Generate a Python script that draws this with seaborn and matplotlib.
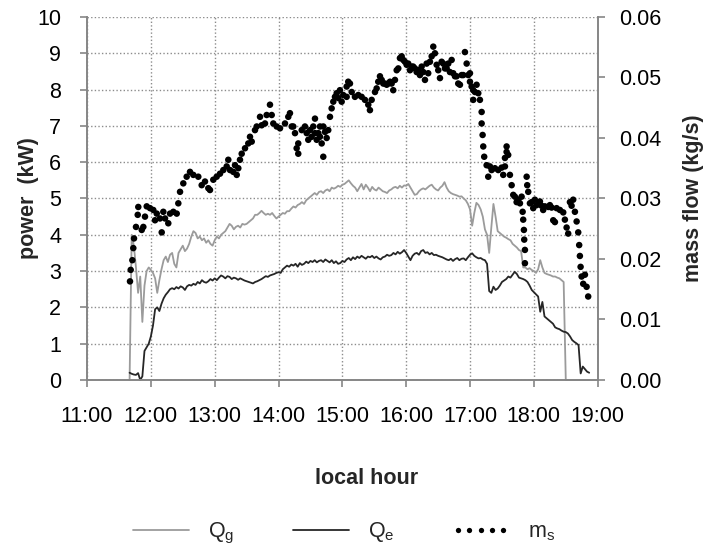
import numpy as np
import pandas as pd
import matplotlib
matplotlib.use("Agg")
import matplotlib.pyplot as plt
from matplotlib.lines import Line2D
from matplotlib.legend_handler import HandlerLine2D
from matplotlib.ticker import FormatStrFormatter
import seaborn as sns

# ---------------------------------------------------------------------------
# Power curves, logged every 2 minutes from 11:40 to 18:52 (kW)
# ---------------------------------------------------------------------------
first_minute = 11 * 60 + 40
last_minute = 18 * 60 + 52
sample_minutes = np.arange(first_minute, last_minute + 1, 2)

q_g = [
    0.0, 4.0, 3.7, 3.1, 2.4, 2.85, 1.6, 2.6, 3.0, 3.1, 3.03, 2.95, 2.8, 2.4, 2.75,
    3.05, 3.3, 3.4, 3.25, 3.45, 3.5, 3.2, 3.1, 3.5, 3.6, 3.7, 3.55, 3.62, 3.75, 3.95,
    4.1, 4.05, 3.9, 3.95, 3.85, 3.9, 3.78, 3.85, 3.75, 3.7, 3.85, 3.95, 3.9, 4.0, 4.05,
    4.1, 4.2, 4.3, 4.25, 4.15, 4.22, 4.25, 4.2, 4.3, 4.28, 4.3, 4.35, 4.4, 4.45, 4.55,
    4.55, 4.6, 4.66, 4.6, 4.55, 4.58, 4.55, 4.6, 4.52, 4.45, 4.5, 4.55, 4.6, 4.58, 4.65,
    4.65, 4.72, 4.78, 4.75, 4.82, 4.85, 4.9, 4.85, 4.95, 5.0, 5.05, 5.1, 5.15, 5.1, 5.18,
    5.2, 5.15, 5.22, 5.25, 5.2, 5.3, 5.27, 5.3, 5.35, 5.32, 5.38, 5.4, 5.45, 5.5, 5.42,
    5.35, 5.3, 5.2, 5.3, 5.4, 5.25, 5.38, 5.3, 5.2, 5.32, 5.25, 5.22, 5.3, 5.25, 5.2,
    5.18, 5.15, 5.22, 5.25, 5.3, 5.32, 5.28, 5.35, 5.3, 5.36, 5.35, 5.4, 5.3, 5.2, 5.1,
    5.12, 5.2, 5.25, 5.28, 5.25, 5.3, 5.35, 5.38, 5.3, 5.25, 5.22, 5.3, 5.35, 5.45, 5.3,
    5.2, 5.15, 5.12, 5.1, 5.08, 5.05, 5.06, 5.0, 4.95, 4.85, 4.7, 4.25, 4.6, 4.88, 4.82,
    4.7, 4.5, 4.15, 4.0, 3.5, 4.2, 4.85, 4.5, 4.1, 4.05, 4.0, 3.95, 3.92, 3.88, 3.85,
    3.75, 3.7, 3.65, 3.58, 3.55, 3.1, 3.1, 3.05, 3.08, 3.03, 3.0, 2.95, 3.05, 3.3, 3.1,
    2.95, 2.92, 2.9, 2.88, 2.85, 2.85, 2.82, 2.8, 2.75, 2.7, 0.0, 0.0, 0.0, 0.0, 0.0,
    0.0, 0.0, 0.0, 0.0, 0.0, 0.0, 0.0,
]

q_e = [
    0.2, 0.17, 0.15, 0.14, 0.19, 0.0, 0.1, 0.8, 0.9, 1.0, 1.2, 1.5, 1.95, 2.0, 1.9,
    2.1, 2.25, 2.35, 2.42, 2.5, 2.53, 2.5, 2.56, 2.52, 2.58, 2.55, 2.48, 2.58, 2.62, 2.6,
    2.65, 2.62, 2.7, 2.66, 2.75, 2.7, 2.68, 2.72, 2.78, 2.74, 2.8, 2.75, 2.82, 2.88, 2.85,
    2.8, 2.86, 2.84, 2.78, 2.82, 2.8, 2.76, 2.8, 2.77, 2.74, 2.72, 2.7, 2.68, 2.66, 2.7,
    2.72, 2.75, 2.78, 2.82, 2.86, 2.84, 2.88, 2.9, 2.92, 2.95, 2.97, 2.95, 3.05, 3.1, 3.15,
    3.12, 3.18, 3.15, 3.2, 3.12, 3.22, 3.17, 3.2, 3.26, 3.22, 3.28, 3.25, 3.3, 3.24, 3.28,
    3.3, 3.25, 3.32, 3.28, 3.24, 3.3, 3.22, 3.27, 3.2, 3.22, 3.28, 3.25, 3.32, 3.36, 3.3,
    3.38, 3.33, 3.4, 3.36, 3.42, 3.38, 3.34, 3.4, 3.38, 3.42, 3.36, 3.4, 3.35, 3.32, 3.38,
    3.4, 3.45, 3.42, 3.44, 3.5, 3.46, 3.53, 3.48, 3.52, 3.58, 3.5, 3.4, 3.3, 3.42, 3.48,
    3.5, 3.45, 3.55, 3.58, 3.5, 3.52, 3.46, 3.5, 3.44, 3.45, 3.42, 3.4, 3.38, 3.35, 3.32,
    3.3, 3.34, 3.28, 3.33, 3.36, 3.3, 3.34, 3.35, 3.3, 3.38, 3.45, 3.49, 3.42, 3.38, 3.35,
    3.36, 3.32, 3.3, 3.2, 2.45, 2.4, 2.57, 2.48, 2.52, 2.6, 2.7, 2.74, 2.78, 2.85, 2.82,
    2.9, 2.98, 2.92, 2.82, 2.8, 2.78, 2.75, 2.7, 2.6, 2.48, 2.42, 2.36, 2.3, 1.88, 2.15,
    1.75, 1.7, 1.65, 1.6, 1.55, 1.45, 1.42, 1.4, 1.36, 1.33, 1.32, 1.28, 1.2, 1.1, 1.05,
    1.01, 0.96, 0.18, 0.37, 0.3, 0.23, 0.2,
]

# ---------------------------------------------------------------------------
# Steam mass flow readings (decimal hour, kg/s)
# ---------------------------------------------------------------------------
ms_hour = [
    11.673, 11.684, 11.710, 11.725, 11.736, 11.767, 11.794, 11.803, 11.857, 11.882,
    11.908, 11.935, 11.987, 12.038, 12.065, 12.092, 12.143, 12.170, 12.195, 12.222,
    12.273, 12.300, 12.352, 12.405, 12.430, 12.457, 12.508, 12.561, 12.613, 12.665,
    12.743, 12.796, 12.848, 12.900, 12.926, 12.978, 13.031, 13.083, 13.135, 13.188,
    13.213, 13.240, 13.291, 13.318, 13.345, 13.370, 13.396, 13.423, 13.475, 13.526,
    13.553, 13.580, 13.631, 13.658, 13.710, 13.736, 13.788, 13.814, 13.866, 13.893,
    13.918, 13.971, 14.023, 14.101, 14.153, 14.179, 14.206, 14.231, 14.258, 14.284,
    14.309, 14.309, 14.363, 14.414, 14.441, 14.466, 14.493, 14.519, 14.544, 14.571,
    14.571, 14.598, 14.623, 14.649, 14.649, 14.676, 14.701, 14.701, 14.728, 14.754,
    14.779, 14.806, 14.832, 14.858, 14.884, 14.911, 14.936, 14.962, 14.989, 15.014,
    15.067, 15.067, 15.092, 15.119, 15.146, 15.197, 15.249, 15.302, 15.354, 15.406,
    15.432, 15.459, 15.511, 15.537, 15.562, 15.589, 15.616, 15.641, 15.667, 15.694,
    15.719, 15.746, 15.772, 15.797, 15.824, 15.851, 15.876, 15.902, 15.929, 15.954,
    15.980, 16.007, 16.032, 16.059, 16.085, 16.110, 16.137, 16.164, 16.189, 16.215,
    16.242, 16.267, 16.294, 16.320, 16.345, 16.372, 16.399, 16.424, 16.450, 16.477,
    16.502, 16.529, 16.555, 16.580, 16.607, 16.634, 16.659, 16.685, 16.712, 16.737,
    16.764, 16.790, 16.815, 16.842, 16.869, 16.894, 16.920, 16.947, 16.972, 16.999,
    16.999, 17.025, 17.050, 17.050, 17.077, 17.103, 17.129, 17.155, 17.182, 17.182,
    17.197, 17.207, 17.222, 17.260, 17.285, 17.312, 17.338, 17.390, 17.442, 17.495,
    17.520, 17.547, 17.547, 17.573, 17.573, 17.598, 17.625, 17.652, 17.677, 17.703,
    17.730, 17.755, 17.782, 17.808, 17.824, 17.833, 17.844, 17.849, 17.860, 17.860,
    17.887, 17.896, 17.912, 17.938, 17.965, 17.990, 18.016, 18.043, 18.095, 18.121,
    18.146, 18.173, 18.225, 18.251, 18.278, 18.303, 18.330, 18.356, 18.408, 18.460,
    18.486, 18.513, 18.538, 18.565, 18.591, 18.616, 18.643, 18.670, 18.695, 18.710,
    18.721, 18.732, 18.748, 18.773, 18.800, 18.826, 18.851,
]

ms_flow = [
    0.0163, 0.0182, 0.0198, 0.0218, 0.0234, 0.0253, 0.0273, 0.0286, 0.0248, 0.0253,
    0.0270, 0.0287, 0.0284, 0.0281, 0.0264, 0.0275, 0.0267, 0.0244, 0.0278, 0.0267,
    0.0259, 0.0275, 0.0278, 0.0275, 0.0292, 0.0311, 0.0325, 0.0336, 0.0344, 0.0339,
    0.0336, 0.0322, 0.0328, 0.0317, 0.0314, 0.0331, 0.0336, 0.0341, 0.0347, 0.0353,
    0.0364, 0.0347, 0.0344, 0.0355, 0.0339, 0.0350, 0.0364, 0.0374, 0.0383, 0.0391,
    0.0402, 0.0394, 0.0413, 0.0419, 0.0435, 0.0421, 0.0424, 0.0438, 0.0455, 0.0438,
    0.0424, 0.0419, 0.0416, 0.0424, 0.0435, 0.0441, 0.0419, 0.0419, 0.0408, 0.0383,
    0.0391, 0.0374, 0.0413, 0.0419, 0.0408, 0.0397, 0.0413, 0.0402, 0.0419, 0.0432,
    0.0408, 0.0397, 0.0408, 0.0419, 0.0402, 0.0391, 0.0369, 0.0419, 0.0410, 0.0400,
    0.0413, 0.0435, 0.0449, 0.0460, 0.0468, 0.0474, 0.0466, 0.0479, 0.0460, 0.0471,
    0.0485, 0.0468, 0.0493, 0.0490, 0.0476, 0.0468, 0.0471, 0.0468, 0.0463, 0.0455,
    0.0446, 0.0463, 0.0476, 0.0482, 0.0493, 0.0502, 0.0496, 0.0490, 0.0490, 0.0488,
    0.0490, 0.0493, 0.0490, 0.0479, 0.0496, 0.0512, 0.0515, 0.0532, 0.0535, 0.0529,
    0.0526, 0.0521, 0.0523, 0.0512, 0.0518, 0.0518, 0.0515, 0.0509, 0.0512, 0.0504,
    0.0518, 0.0509, 0.0496, 0.0523, 0.0507, 0.0526, 0.0535, 0.0551, 0.0540, 0.0521,
    0.0512, 0.0499, 0.0526, 0.0523, 0.0515, 0.0515, 0.0523, 0.0509, 0.0529, 0.0507,
    0.0502, 0.0502, 0.0490, 0.0488, 0.0504, 0.0504, 0.0542, 0.0523, 0.0504, 0.0493,
    0.0507, 0.0485, 0.0479, 0.0463, 0.0476, 0.0488, 0.0474, 0.0463, 0.0443, 0.0424,
    0.0405, 0.0386, 0.0369, 0.0355, 0.0336, 0.0353, 0.0347, 0.0350, 0.0347, 0.0351,
    0.0339, 0.0367, 0.0353, 0.0377, 0.0386, 0.0372, 0.0339, 0.0322, 0.0306, 0.0303,
    0.0294, 0.0298, 0.0292, 0.0303, 0.0278, 0.0265, 0.0248, 0.0232, 0.0215, 0.0193,
    0.0336, 0.0322, 0.0311, 0.0292, 0.0294, 0.0284, 0.0298, 0.0289, 0.0295, 0.0288,
    0.0281, 0.0287, 0.0286, 0.0289, 0.0285, 0.0264, 0.0261, 0.0284, 0.0281, 0.0277,
    0.0265, 0.0252, 0.0242, 0.0294, 0.0288, 0.0298, 0.0278, 0.0262, 0.0244, 0.0223,
    0.0205, 0.0187, 0.0171, 0.0159, 0.0174, 0.0154, 0.0138,
]

hour_ticks = [11, 12, 13, 14, 15, 16, 17, 18, 19]
hour_labels = ["11:00", "12:00", "13:00", "14:00", "15:00",
               "16:00", "17:00", "18:00", "19:00"]
power_ticks = [0, 1, 2, 3, 4, 5, 6, 7, 8, 9, 10]
flow_ticks = [0.0, 0.01, 0.02, 0.03, 0.04, 0.05, 0.06]

# ---------------------------------------------------------------------------
sns.set_theme(style="white")
plt.rcParams["font.family"] = ["Liberation Sans", "DejaVu Sans"]
plt.rcParams["mathtext.default"] = "regular"

FS = 15.5
AXIS_GREY = "#868686"
GRID_GREY = "#8c8c8c"
QG_COLOR = "#9b9b9b"
QE_COLOR = "#262626"

power = pd.DataFrame({"hour": sample_minutes / 60.0, "Qg": q_g, "Qe": q_e})
flow = pd.DataFrame({"hour": ms_hour, "ms": ms_flow})

fig = plt.figure(figsize=(7.07, 5.57), dpi=100)
ax = fig.add_axes([0.1231, 0.3178, 0.7223, 0.6517])

sns.lineplot(data=power, x="hour", y="Qg", ax=ax, color=QG_COLOR,
             linewidth=1.3, estimator=None, clip_on=False)
sns.lineplot(data=power, x="hour", y="Qe", ax=ax, color=QE_COLOR,
             linewidth=1.3, estimator=None, clip_on=False)

ax.set_xlim(11, 19)
ax.set_ylim(0, 10)
ax.set_xticks(hour_ticks)
ax.set_xticklabels(hour_labels)
ax.set_yticks(power_ticks)
ax.grid(True, color=GRID_GREY, linestyle=(0, (1, 1.6)), linewidth=1.0)
ax.set_axisbelow(True)

for side in ("top", "right"):
    ax.spines[side].set_visible(False)
for side in ("left", "bottom"):
    ax.spines[side].set_color(AXIS_GREY)
    ax.spines[side].set_linewidth(1.4)

ax.tick_params(axis="x", direction="out", length=5, width=1.2,
               color=AXIS_GREY, labelsize=FS, labelcolor="black", pad=14,
               bottom=True)
ax.tick_params(axis="y", direction="out", length=5, width=1.2,
               color=AXIS_GREY, labelsize=FS, labelcolor="black", pad=13.5,
               left=True)

ax.set_xlabel("local hour", fontsize=FS, fontweight="bold")
ax.set_ylabel("power  (kW)", fontsize=FS, fontweight="bold")
ax.xaxis.set_label_coords(0.547, -0.272)
ax.xaxis.label.set_verticalalignment("center")
ax.yaxis.set_label_coords(-0.094, 0.5)

ax2 = ax.twinx()
sns.scatterplot(data=flow, x="hour", y="ms", ax=ax2, color="black",
                s=22, edgecolor="none", linewidth=0, legend=False)
ax2.set_xlim(11, 19)
ax2.set_ylim(0, 0.06)
ax2.set_yticks(flow_ticks)
ax2.yaxis.set_major_formatter(FormatStrFormatter("%.2f"))
ax2.grid(False)
for side in ("top", "left", "bottom"):
    ax2.spines[side].set_visible(False)
ax2.spines["right"].set_color(AXIS_GREY)
ax2.spines["right"].set_linewidth(1.4)
ax2.tick_params(axis="y", direction="out", length=5, width=1.2,
                color=AXIS_GREY, labelsize=FS, labelcolor="black", pad=10.5,
                right=True)
ax2.set_xlabel("")
ax2.set_ylabel("mass flow (kg/s)", fontsize=FS, fontweight="bold")
ax2.yaxis.set_label_coords(1.168, 0.5)

qg_handle = Line2D([], [], color=QG_COLOR, linewidth=1.3)
qe_handle = Line2D([], [], color=QE_COLOR, linewidth=1.3)
ms_handle = Line2D([], [], color="black", linestyle="none", marker="o",
                   markersize=3.8, markeredgewidth=0)
fig.legend([qg_handle, qe_handle, ms_handle], ["$Q_g$", "$Q_e$", "$m_s$"],
           loc="center", bbox_to_anchor=(0.482, 0.043), ncol=3,
           frameon=False, fontsize=FS, handlelength=3.2, handletextpad=0.6,
           columnspacing=2.4, numpoints=5,
           handler_map={qg_handle: HandlerLine2D(numpoints=2, marker_pad=0.3),
                        qe_handle: HandlerLine2D(numpoints=2, marker_pad=0.3),
                        ms_handle: HandlerLine2D(numpoints=5, marker_pad=0.55)})

fig.savefig("out.png", dpi=100)
